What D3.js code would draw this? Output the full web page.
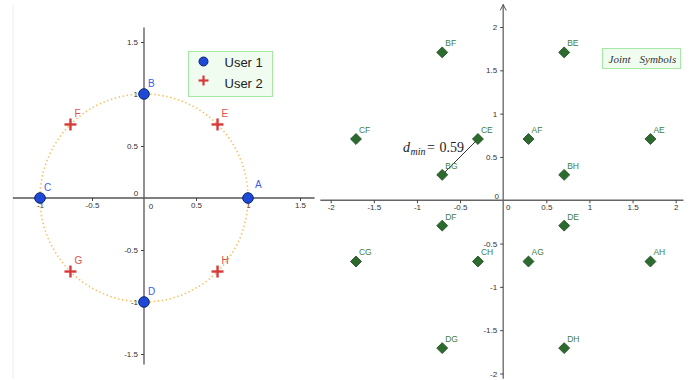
<!DOCTYPE html>
<html>
<head>
<meta charset="utf-8">
<script src="https://cdn.jsdelivr.net/npm/d3@7"></script>
<style>
  body { margin: 0; background: #fff; }
  svg { display: block; }
  .tick text { font-family: "Liberation Sans", Arial, sans-serif; font-size: 8px; fill: #333; }
  .tick line { stroke: #444; }
</style>
</head>
<body>
<div id="chart"></div>
<script>
// left panel: the two users' symbols on the unit circle
const user1Names = ["A", "B", "C", "D"];
const user1X = [1, 0, -1, 0];
const user1Y = [0, 1, 0, -1];

const user2Names = ["E", "F", "G", "H"];
const user2X = [0.707, -0.707, -0.707, 0.707];
const user2Y = [0.707, 0.707, -0.707, -0.707];

const circleRadius = [1];

// right panel: joint symbols
const jointNames = ["AE", "AF", "AG", "AH", "BE", "BF", "BG", "BH", "CE", "CF", "CG", "CH", "DE", "DF", "DG", "DH"];
const jointX = [1.707, 0.293, 0.293, 1.707, 0.707, -0.707, -0.707, 0.707, -0.293, -1.707, -1.707, -0.293, 0.707, -0.707, -0.707, 0.707];
const jointY = [0.707, 0.707, -0.707, -0.707, 1.707, 1.707, 0.293, 0.293, 0.707, 0.707, -0.707, -0.707, -0.293, -0.293, -1.707, -1.707];

const dminPair = ["BG", "CE"];
const dminValue = 0.59;

// tick labels
const leftXTicks = [-1, -0.5, 0.5, 1, 1.5];
const leftYTicks = [-1.5, -1, -0.5, 0.5, 1, 1.5];
const rightXTicks = [-2, -1.5, -1, -0.5, 0.5, 1, 1.5, 2];
const rightYTicks = [-2, -1.5, -1, -0.5, 0.5, 1, 1.5, 2];

// visible extent of the axis lines
const leftXView = [-1.26, 1.64];
const leftYView = [-1.6, 1.64];
const rightXView = [-2.12, 2.09];
const rightYView = [-2.06, 2.26];

const legendNames = ["User 1", "User 2"];

const svg = d3.select("#chart")
  .append("svg")
  .attr("width", 700)
  .attr("height", 380);

const fmt = d => String(d);

// faint frame line on the left
svg.append("line")
  .attr("x1", 13).attr("x2", 13)
  .attr("y1", 5).attr("y2", 378)
  .attr("stroke", "#ececec");

// ---------- left panel ----------
const xL = d3.scaleLinear().domain([-1, 1]).range([40, 248]);
const yL = d3.scaleLinear().domain([-1, 1]).range([302, 94]);

const left = svg.append("g");

left.append("line")
  .attr("x1", xL(leftXView[0])).attr("x2", xL(leftXView[1]))
  .attr("y1", yL(0)).attr("y2", yL(0))
  .attr("stroke", "#555").attr("stroke-width", 1.3);
left.append("line")
  .attr("x1", xL(0)).attr("x2", xL(0))
  .attr("y1", yL(leftYView[0])).attr("y2", yL(leftYView[1]))
  .attr("stroke", "#555").attr("stroke-width", 1.3);

left.append("g")
  .attr("transform", `translate(0,${yL(0)})`)
  .call(d3.axisBottom(xL).tickValues(leftXTicks).tickSize(3).tickPadding(1.5).tickFormat(fmt))
  .call(g => g.select(".domain").remove());

left.append("g")
  .attr("transform", `translate(${xL(0)},0)`)
  .call(d3.axisLeft(yL).tickValues(leftYTicks).tickSize(3).tickPadding(3).tickFormat(fmt))
  .call(g => g.select(".domain").remove());

// origin labels
left.append("text").attr("class", "olab")
  .attr("x", xL(0) + 7).attr("y", yL(0) + 11).attr("text-anchor", "middle").text("0");
left.append("text").attr("class", "olab")
  .attr("x", xL(0) - 8).attr("y", yL(0) - 2).attr("text-anchor", "middle").text("0");

// dotted circle
left.selectAll("circle.ring")
  .data(circleRadius)
  .join("circle")
  .attr("class", "ring")
  .attr("cx", xL(0))
  .attr("cy", yL(0))
  .attr("r", d => xL(d) - xL(0))
  .attr("fill", "none")
  .attr("stroke", "#f6c060")
  .attr("stroke-width", 1.6)
  .attr("stroke-dasharray", "1.4,2.6");

const user1 = user1Names.map((n, i) => ({ name: n, x: user1X[i], y: user1Y[i] }));
const user2 = user2Names.map((n, i) => ({ name: n, x: user2X[i], y: user2Y[i] }));

left.selectAll("text.u1")
  .data(user1)
  .join("text")
  .attr("class", "u1")
  .attr("x", d => xL(d.x) + (d.name === "A" ? 7 : 4))
  .attr("y", d => yL(d.y) - (d.name === "A" ? 10 : 7))
  .attr("fill", "#3d5ee6")
  .style("font", "10px 'Liberation Sans', Arial, sans-serif")
  .text(d => d.name);

left.selectAll("circle.u1")
  .data(user1)
  .join("circle")
  .attr("class", "u1")
  .attr("cx", d => xL(d.x))
  .attr("cy", d => yL(d.y))
  .attr("r", 5.3)
  .attr("fill", "#1d48d8")
  .attr("stroke", "#0c2568")
  .attr("stroke-width", 1);

left.selectAll("text.u2")
  .data(user2)
  .join("text")
  .attr("class", "u2")
  .attr("x", d => xL(d.x) + 4)
  .attr("y", d => yL(d.y) - 7.5)
  .attr("fill", "#e0504f")
  .style("font", "10px 'Liberation Sans', Arial, sans-serif")
  .text(d => d.name);

const plus = left.selectAll("g.u2")
  .data(user2)
  .join("g")
  .attr("class", "u2")
  .attr("transform", d => `translate(${xL(d.x)},${yL(d.y)})`)
  .attr("stroke", "#d83a3a")
  .attr("stroke-width", 2.4);
plus.append("line").attr("x1", -6).attr("x2", 6);
plus.append("line").attr("y1", -6).attr("y2", 6);

// legend
const lg = svg.append("g").attr("transform", "translate(188.5,51.5)");
lg.append("rect")
  .attr("width", 84).attr("height", 45)
  .attr("fill", "#f1fcf1")
  .attr("stroke", "#a5e8a5");
lg.append("circle").attr("cx", 15).attr("cy", 10).attr("r", 4.5)
  .attr("fill", "#1d48d8").attr("stroke", "#0c2568");
const lp = lg.append("g").attr("transform", "translate(15,29)")
  .attr("stroke", "#d83a3a").attr("stroke-width", 2.2);
lp.append("line").attr("x1", -5).attr("x2", 5);
lp.append("line").attr("y1", -5).attr("y2", 5);
lg.selectAll("text")
  .data(legendNames)
  .join("text")
  .attr("x", 36)
  .attr("y", (d, i) => 15 + i * 21.5)
  .attr("fill", "#222")
  .style("font", "13px 'Liberation Sans', Arial, sans-serif")
  .text(d => d);

// ---------- right panel ----------
const xR = d3.scaleLinear().domain([-2, 2]).range([330.7, 675.7]);
const yR = d3.scaleLinear().domain([-2, 2]).range([373.5, 27]);

const right = svg.append("g");

right.append("line")
  .attr("x1", xR(rightXView[0])).attr("x2", xR(rightXView[1]))
  .attr("y1", yR(0)).attr("y2", yR(0))
  .attr("stroke", "#666").attr("stroke-width", 1.3);
right.append("line")
  .attr("x1", xR(0)).attr("x2", xR(0))
  .attr("y1", yR(rightYView[0])).attr("y2", yR(rightYView[1]))
  .attr("stroke", "#666").attr("stroke-width", 1.3);
right.append("path")
  .attr("d", `M${xR(0) - 3},${yR(rightYView[1]) + 6}L${xR(0)},${yR(rightYView[1])}L${xR(0) + 3},${yR(rightYView[1]) + 6}`)
  .attr("fill", "none")
  .attr("stroke", "#555");

right.append("g")
  .attr("transform", `translate(0,${yR(0)})`)
  .call(d3.axisBottom(xR).tickValues(rightXTicks).tickSize(3).tickPadding(1.5).tickFormat(fmt))
  .call(g => g.select(".domain").remove());

right.append("g")
  .attr("transform", `translate(${xR(0)},0)`)
  .call(d3.axisLeft(yR).tickValues(rightYTicks).tickSize(3).tickPadding(3).tickFormat(fmt))
  .call(g => g.select(".domain").remove());

right.append("text").attr("class", "olab")
  .attr("x", xR(0) + 5).attr("y", yR(0) + 10).attr("text-anchor", "middle").text("0");
right.append("text").attr("class", "olab")
  .attr("x", xR(0) - 6.5).attr("y", yR(0) - 1.5).attr("text-anchor", "middle").text("0");

svg.selectAll(".olab")
  .style("font", "8px 'Liberation Sans', Arial, sans-serif")
  .attr("fill", "#333");

const joint = jointNames.map((n, i) => ({ name: n, x: jointX[i], y: jointY[i] }));
const byName = new Map(joint.map(d => [d.name, d]));

// d_min segment
const p0 = byName.get(dminPair[0]);
const p1 = byName.get(dminPair[1]);
right.append("line")
  .attr("x1", xR(p0.x)).attr("y1", yR(p0.y))
  .attr("x2", xR(p1.x)).attr("y2", yR(p1.y))
  .attr("stroke", "#333")
  .attr("stroke-width", 1);

const dl = right.append("text")
  .attr("y", 152)
  .attr("fill", "#222")
  .style("font-family", "'Liberation Serif', 'Times New Roman', serif")
  .style("font-size", "14px");
dl.append("tspan").attr("x", 403).style("font-style", "italic").text("d");
dl.append("tspan").attr("x", 410.5).attr("dy", 3).style("font-style", "italic").style("font-size", "10px").text("min");
dl.append("tspan").attr("x", 427).attr("dy", -3).text("=");
dl.append("tspan").attr("x", 439.5).text(dminValue);

right.selectAll("text.jl")
  .data(joint)
  .join("text")
  .attr("class", "jl")
  .attr("x", d => xR(d.x) + 3)
  .attr("y", d => yR(d.y) - 6)
  .attr("fill", "#3f7d3f")
  .style("font", "8.5px 'Liberation Sans', Arial, sans-serif")
  .text(d => d.name);

right.selectAll("path.jd")
  .data(joint)
  .join("path")
  .attr("class", "jd")
  .attr("d", d3.symbol(d3.symbolSquare, 60))
  .attr("transform", d => `translate(${xR(d.x)},${yR(d.y)}) rotate(45)`)
  .attr("fill", "#2c6a2e")
  .attr("stroke", "#1f4f21")
  .attr("stroke-width", 0.8);

// joint legend
const jl = svg.append("g").attr("transform", "translate(602.5,48.5)");
jl.append("rect")
  .attr("width", 78).attr("height", 20)
  .attr("fill", "#f1fcf1")
  .attr("stroke", "#a5e8a5");
const jt = jl.append("text")
  .attr("y", 14)
  .attr("fill", "#333")
  .style("font-family", "'Liberation Serif', 'Times New Roman', serif")
  .style("font-style", "italic")
  .style("font-size", "11px");
jt.append("tspan").attr("x", 6).text("Joint");
jt.append("tspan").attr("x", 37).text("Symbols");
</script>
</body>
</html>
